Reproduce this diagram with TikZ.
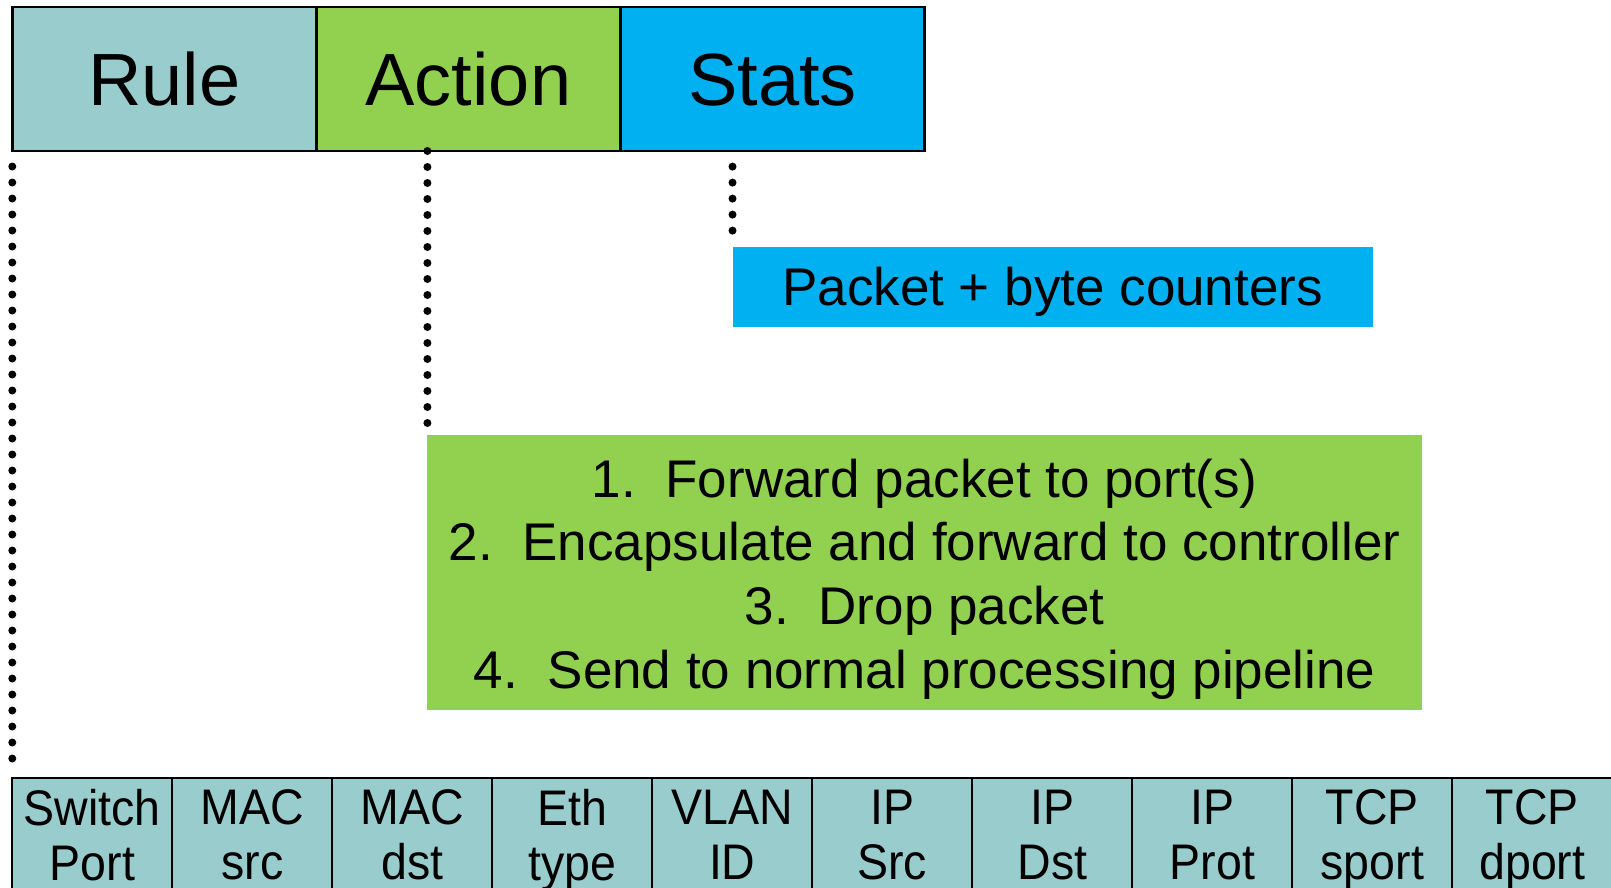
\documentclass[tikz,border=0pt]{standalone}
\usepackage{fontspec}
\setmainfont{Liberation Sans}
\newfontfamily\condfont[FakeStretch=0.93]{Liberation Sans}
\definecolor{rulecol}{RGB}{153,204,204}
\definecolor{actcol}{RGB}{146,208,80}
\definecolor{statcol}{RGB}{0,176,240}
\newcommand{\gstrut}{\rule[-5.5pt]{0pt}{57.4pt}}
\newcommand{\cstrut}{\rule[-17pt]{0pt}{34.4pt}}
\tikzset{
  hdrbox/.style={draw=black, line width=2.6pt, minimum width=304.1pt, minimum height=143.8pt,
    inner sep=0pt, outer sep=0pt, anchor=north west,
    font=\fontsize{74}{74}\selectfont, text height=53pt, text depth=0pt},
  cellbox/.style={draw=black, line width=2pt, fill=rulecol, minimum width=160pt, minimum height=130pt,
    inner sep=0pt, outer sep=0pt, anchor=north west, align=center,
    font=\condfont\fontsize{50}{55}\selectfont},
  dotline/.style={line width=8pt, line cap=round, dash pattern=on 0pt off 16pt},
}
\begin{document}
\begin{tikzpicture}[x=1pt,y=-1pt]
\useasboundingbox (0,0) rectangle (1611,888);
\clip (0,0) rectangle (1611,888);
% header
\node[hdrbox, fill=rulecol] (rule) at (12.3,7.2) {Rule};
\node[hdrbox, fill=actcol] (action) at (rule.north east) {Action};
\node[hdrbox, fill=statcol] (stats) at (action.north east) {Stats};
% stats box
\node[fill=statcol, minimum width=640.1pt, minimum height=80.1pt, inner sep=0pt, outer sep=0pt,
  anchor=north west, font=\fontsize{53}{53}\selectfont, text height=38pt, text depth=0pt]
  (packet) at (732.5,246.6) {Packet + byte counters};
% action box
\node[fill=actcol, minimum width=994.5pt, minimum height=275.4pt, inner sep=0pt, outer sep=0pt,
  anchor=north west, align=center, font=\fontsize{53}{63.8}\selectfont]
  (actions) at (427.4,434.6)
  {\gstrut 1.\hspace{0.56em}Forward packet to port(s)\\
   \gstrut 2.\hspace{0.56em}Encapsulate and forward to controller\\
   \gstrut 3.\hspace{0.56em}Drop packet\\
   \gstrut 4.\hspace{0.56em}Send to normal processing pipeline};
% match fields
\node[cellbox] (c1) at (12.3,778.3) {\cstrut Switch\\\cstrut Port};
\node[cellbox] (c2) at (c1.north east) {\cstrut MAC\\\cstrut src};
\node[cellbox] (c3) at (c2.north east) {\cstrut MAC\\\cstrut dst};
\node[cellbox] (c4) at (c3.north east) {\cstrut Eth\\\cstrut type};
\node[cellbox] (c5) at (c4.north east) {\cstrut VLAN\\\cstrut ID};
\node[cellbox] (c6) at (c5.north east) {\cstrut IP\\\cstrut Src};
\node[cellbox] (c7) at (c6.north east) {\cstrut IP\\\cstrut Dst};
\node[cellbox] (c8) at (c7.north east) {\cstrut IP\\\cstrut Prot};
\node[cellbox] (c9) at (c8.north east) {\cstrut TCP\\\cstrut sport};
\node[cellbox] (c10) at (c9.north east) {\cstrut TCP\\\cstrut dport};
% dotted connectors
\coordinate (rtop) at ([yshift=-15.5pt]rule.south west);
\coordinate (rbot) at ([yshift=17pt]c1.north west);
\draw[dotline] (rtop) -- (rbot);
\coordinate (atop) at (actions.north west |- action.south);
\coordinate (abot) at ([yshift=11.6pt]actions.north west);
\draw[dotline] (atop) -- (abot);
\coordinate (stop) at ([yshift=-15.6pt]packet.north west |- stats.south);
\coordinate (sbot) at ([yshift=16pt]packet.north west);
\draw[dotline] (stop) -- (sbot);
\end{tikzpicture}
\end{document}
